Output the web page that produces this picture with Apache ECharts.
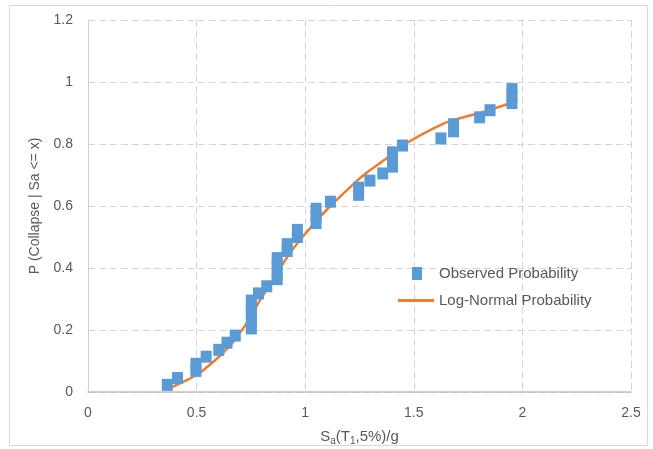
<!DOCTYPE html>
<html>
<head>
<meta charset="utf-8">
<script src="https://cdn.jsdelivr.net/npm/echarts@6/dist/echarts.min.js"></script>
<style>
html, body { margin: 0; padding: 0; background: #fff; }
#chart { width: 653px; height: 449px; }
</style>
</head>
<body>
<div id="chart"></div>
<script>
// observed collapse fractions (sorted Sa, stacked where several records collapse at same Sa)
var obsX = [0.365, 0.412, 0.497, 0.497, 0.544, 0.602, 0.640, 0.678,
	0.752, 0.752, 0.752, 0.752, 0.752, 0.785, 0.823,
	0.871, 0.871, 0.871, 0.871, 0.917, 0.917, 0.964, 0.964,
	1.050, 1.050, 1.050, 1.116, 1.246, 1.246, 1.298, 1.357,
	1.402, 1.402, 1.402, 1.448, 1.625, 1.683, 1.683, 1.803, 1.851,
	1.952, 1.952, 1.952];
var obsY = [0.023, 0.045, 0.068, 0.091, 0.114, 0.136, 0.159, 0.182,
	0.205, 0.227, 0.250, 0.273, 0.295, 0.318, 0.341,
	0.364, 0.386, 0.409, 0.432, 0.455, 0.477, 0.500, 0.523,
	0.545, 0.568, 0.591, 0.614, 0.636, 0.659, 0.682, 0.705,
	0.727, 0.750, 0.773, 0.795, 0.818, 0.841, 0.864, 0.886, 0.909,
	0.932, 0.955, 0.977];

// fitted log-normal curve
var fitX = [0.365, 0.412, 0.497, 0.544, 0.602, 0.640, 0.678, 0.752, 0.785, 0.823,
	0.871, 0.917, 0.964, 1.050, 1.116, 1.246, 1.298, 1.357, 1.402, 1.448,
	1.625, 1.683, 1.803, 1.851, 1.952];
var fitY = [0.011, 0.024, 0.054, 0.078, 0.113, 0.140, 0.170, 0.245, 0.288, 0.330,
	0.382, 0.435, 0.480, 0.550, 0.600, 0.686, 0.715, 0.745, 0.768, 0.795,
	0.862, 0.877, 0.900, 0.910, 0.934];

var xTicks = { min: 0, max: 2.5, interval: 0.5 };
var yTicks = { min: 0, max: 1.2, interval: 0.2 };

var obsData = [];
for (var i = 0; i < obsX.length; i++) {
	obsData.push([obsX[i], obsY[i]]);
}
var fitData = [];
for (var j = 0; j < fitX.length; j++) {
	fitData.push([fitX[j], fitY[j]]);
}

var font = 'Liberation Sans';
var grey = '#595959';

var myChart = echarts.init(document.getElementById('chart'));
var option = {
	animation: false,
	textStyle: { fontFamily: font },
	graphic: [{
		type: 'rect',
		shape: { x: 9.5, y: 5.5, width: 638, height: 440 },
		style: { fill: 'none', stroke: '#d9d9d9', lineWidth: 1 },
		silent: true
	}],
	grid: { left: 88, right: 22, top: 20, bottom: 57, outerBoundsMode: 'none' },
	legend: [{
		data: [{ name: 'Observed Probability', icon: 'rect' }],
		left: 407,
		top: 261,
		itemWidth: 10,
		itemHeight: 13,
		textStyle: { color: grey, fontSize: 15, fontFamily: font, padding: [0, 0, 0, 12] }
	}, {
		data: [{ name: 'Log-Normal Probability', icon: 'rect' }],
		left: 393,
		top: 288,
		itemWidth: 36,
		itemHeight: 3,
		textStyle: { color: grey, fontSize: 15, fontFamily: font }
	}],
	xAxis: {
		type: 'value',
		min: xTicks.min,
		max: xTicks.max,
		interval: xTicks.interval,
		name: '{n|S}{s|a}{n|(T}{s|1}{n|,5%)/g}',
		nameLocation: 'middle',
		nameGap: 36,
		nameTextStyle: {
			rich: {
				n: { fontSize: 15, color: grey, fontFamily: font, lineHeight: 18 },
				s: { fontSize: 10, color: grey, fontFamily: font, lineHeight: 10, verticalAlign: 'bottom', padding: [10, 0, 0, 0] }
			}
		},
		axisLine: { show: true, lineStyle: { color: '#bfbfbf', width: 1.5 } },
		axisTick: { show: false },
		axisLabel: { color: grey, fontSize: 14, margin: 14 },
		splitLine: { show: true, lineStyle: { color: '#d4d4d4', width: 1, type: [7, 4] } }
	},
	yAxis: {
		type: 'value',
		min: yTicks.min,
		max: yTicks.max,
		interval: yTicks.interval,
		name: 'P (Collapse | Sa <= x)',
		nameLocation: 'middle',
		nameGap: 45,
		nameTextStyle: { color: grey, fontSize: 14, fontFamily: font },
		axisLine: { show: true, lineStyle: { color: '#d0d0d0', width: 1 } },
		axisTick: { show: false },
		axisLabel: { color: grey, fontSize: 14, margin: 15 },
		splitLine: { show: true, lineStyle: { color: '#d4d4d4', width: 1, type: [7, 4] } }
	},
	series: [{
		name: 'Log-Normal Probability',
		type: 'line',
		data: fitData,
		smooth: true,
		showSymbol: false,
		symbol: 'none',
		z: 2,
		itemStyle: { color: '#ED7D31' },
		lineStyle: { color: '#ED7D31', width: 2.5 }
	}, {
		name: 'Observed Probability',
		type: 'scatter',
		data: obsData,
		symbol: 'rect',
		symbolSize: [11, 12],
		z: 3,
		itemStyle: { color: '#5B9BD5', opacity: 1 }
	}]
};
myChart.setOption(option);
</script>
</body>
</html>
